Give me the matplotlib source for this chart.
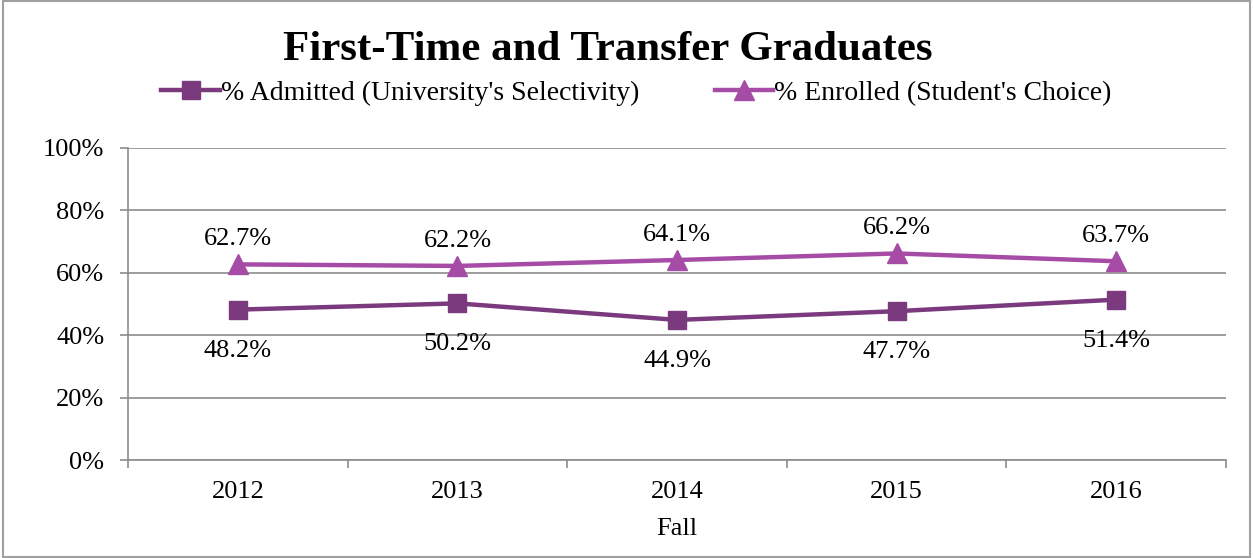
import numpy as np
import matplotlib.pyplot as plt
from matplotlib.patches import Rectangle

years = ['2012', '2013', '2014', '2015', '2016']
admitted = [48.2, 50.2, 44.9, 47.7, 51.4]
enrolled = [62.7, 62.2, 64.1, 66.2, 63.7]

c_adm = '#7B3A7E'
c_enr = '#A64CA6'
grid_c = '#8C8C8C'

plt.rcParams['font.family'] = ['Liberation Serif', 'DejaVu Serif']

fig = plt.figure(figsize=(12.53, 5.58), dpi=100)
ax = fig.add_axes([0.1022, 0.1756, 0.8763, 0.5592])

x = np.arange(len(years))
ax.plot(x, admitted, color=c_adm, lw=3.2, marker='s', ms=13,
        label="% Admitted (University's Selectivity)")
ax.plot(x, enrolled, color=c_enr, lw=3.2, marker='^', ms=14,
        label="% Enrolled (Student's Choice)")

for xi, v in zip(x, enrolled):
    ax.annotate(f'{v:.1f}%', (xi, v), xytext=(0, 14), textcoords='offset pixels',
                ha='center', va='bottom', fontsize=19)
for xi, v in zip(x, admitted):
    ax.annotate(f'{v:.1f}%', (xi, v), xytext=(0, -30), textcoords='offset pixels',
                ha='center', va='top', fontsize=19)

ax.set_xlim(-0.5, len(years) - 0.5)
ax.set_ylim(0, 100)
ax.set_yticks(np.arange(0, 101, 20))
ax.set_yticklabels([f'{v}%' for v in range(0, 101, 20)], fontsize=19)
ax.set_xticks(x)
ax.set_xticklabels(years, fontsize=19)
ax.set_xticks(np.arange(-0.5, len(years), 1), minor=True)
ax.tick_params(axis='x', which='major', length=0, pad=15)
ax.tick_params(axis='x', which='minor', length=6, color=grid_c, width=1.2)
ax.tick_params(axis='y', length=6, color=grid_c, width=1.2, pad=11)
ax.grid(axis='y', color=grid_c, lw=1.2)
ax.set_axisbelow(True)
for s in ['top', 'right']:
    ax.spines[s].set_visible(False)
for s in ['left', 'bottom']:
    ax.spines[s].set_color(grid_c)
    ax.spines[s].set_linewidth(1.2)

ax.set_xlabel('Fall', fontsize=19, labelpad=11)

fig.text(0.485, 0.911, 'First-Time and Transfer Graduates', ha='center', va='center',
         fontsize=31, fontweight='bold')
fig.legend(loc='center', bbox_to_anchor=(0.508, 0.833), ncol=2, frameon=False,
           fontsize=20, handlelength=2.1, columnspacing=2.7, handletextpad=0.05)

fig.patches.append(Rectangle((0.002, 0.002), 0.996, 0.996, transform=fig.transFigure,
                             fill=False, edgecolor='#A0A0A0', lw=1.5))

fig.savefig('out.png', dpi=100)
